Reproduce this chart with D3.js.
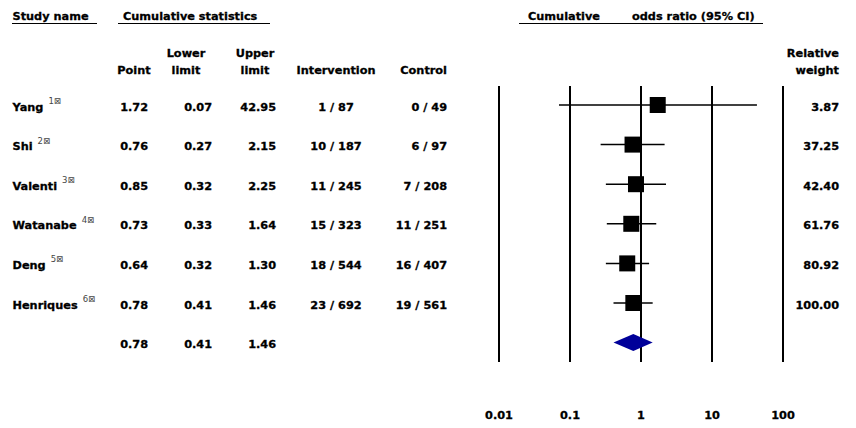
<!DOCTYPE html>
<html>
<head>
<meta charset="utf-8">
<script src="https://cdn.jsdelivr.net/npm/d3@7"></script>
<style>
  html, body { margin: 0; padding: 0; background: #fff; }
  svg text { font-family: "DejaVu Sans", Verdana, sans-serif; font-weight: bold; font-size: 11.3px; fill: #000; stroke: #000; stroke-width: 0.3px; }
  svg text.sup { font-size: 8.5px; font-weight: normal; fill: #444; stroke: none; }
</style>
</head>
<body>
<svg id="chart" width="856" height="428"></svg>
<script>
const studies = ["Yang", "Shi", "Valenti", "Watanabe", "Deng", "Henriques"];
const refs = ["1", "2", "3", "4", "5", "6"];
const pointEst = [1.72, 0.76, 0.85, 0.73, 0.64, 0.78];
const lowerLim = [0.07, 0.27, 0.32, 0.33, 0.32, 0.41];
const upperLim = [42.95, 2.15, 2.25, 1.64, 1.30, 1.46];
const intervention = ["1 / 87", "10 / 187", "11 / 245", "15 / 323", "18 / 544", "23 / 692"];
const control = ["0 / 49", "6 / 97", "7 / 208", "11 / 251", "16 / 407", "19 / 561"];
const relWeight = ["3.87", "37.25", "42.40", "61.76", "80.92", "100.00"];
const summaryPoint = 0.78, summaryLower = 0.41, summaryUpper = 1.46;
const axisTicks = [0.01, 0.1, 1, 10, 100];
const axisTickLabels = ["0.01", "0.1", "1", "10", "100"];

const svg = d3.select("#chart");
const x = d3.scaleLog().domain([0.01, 100]).range([499, 783]);
const y = d3.scaleLinear().domain([0, 6]).range([105, 342.6]);
const fmt = d3.format(".2f");

// Top headers
function header(txt, tx, anchor) {
  return svg.append("text").attr("x", tx).attr("y", 20).attr("text-anchor", anchor || "start").text(txt);
}
header("Study name", 12.5);
header("Cumulative statistics", 123);
header("Cumulative", 528);
header("odds ratio (95% CI)", 632);
[[12, 97], [118, 270], [519, 763]].forEach(([a, b]) => {
  svg.append("line").attr("x1", a).attr("x2", b).attr("y1", 23.5).attr("y2", 23.5)
    .attr("stroke", "#000").attr("stroke-width", 1);
});

// Column headers
const colHead = [
  { t: ["", "Point"], x: 134, a: "middle" },
  { t: ["Lower", "limit"], x: 186, a: "middle" },
  { t: ["Upper", "limit"], x: 255, a: "middle" },
  { t: ["", "Intervention"], x: 336, a: "middle" },
  { t: ["", "Control"], x: 447, a: "end" },
  { t: ["Relative", "weight"], x: 839, a: "end" }
];
colHead.forEach(c => {
  c.t.forEach((line, i) => {
    if (line) svg.append("text").attr("x", c.x).attr("y", 56.5 + i * 17.5).attr("text-anchor", c.a).text(line);
  });
});

// Vertical reference lines
svg.append("g").selectAll("line").data(axisTicks).join("line")
  .attr("x1", d => x(d)).attr("x2", d => x(d))
  .attr("y1", 86).attr("y2", 362)
  .attr("stroke", "#000").attr("stroke-width", 2);

// Axis labels
svg.append("g").selectAll("text").data(axisTicks).join("text")
  .attr("x", d => x(d)).attr("y", 419).attr("text-anchor", "middle")
  .text((d, i) => axisTickLabels[i]);

// Study rows
const rows = svg.append("g").selectAll("g").data(studies).join("g");
rows.each(function (name, i) {
  const g = d3.select(this);
  const base = y(i) + 5.5;
  const nm = g.append("text").attr("x", 12.5).attr("y", base).text(name);
  const w = nm.node().getComputedTextLength();
  g.append("text").attr("class", "sup").attr("x", 12.5 + w + 5).attr("y", base - 6.5)
    .text(refs[i] + "\u22A0");
  g.append("text").attr("x", 148).attr("y", base).attr("text-anchor", "end").text(fmt(pointEst[i]));
  g.append("text").attr("x", 212).attr("y", base).attr("text-anchor", "end").text(fmt(lowerLim[i]));
  g.append("text").attr("x", 276).attr("y", base).attr("text-anchor", "end").text(fmt(upperLim[i]));
  g.append("text").attr("x", 336).attr("y", base).attr("text-anchor", "middle").text(intervention[i]);
  g.append("text").attr("x", 447).attr("y", base).attr("text-anchor", "end").text(control[i]);
  g.append("text").attr("x", 839).attr("y", base).attr("text-anchor", "end").text(relWeight[i]);
  // CI line
  g.append("line").attr("x1", x(lowerLim[i])).attr("x2", x(upperLim[i]))
    .attr("y1", y(i)).attr("y2", y(i)).attr("stroke", "#000").attr("stroke-width", 1.5);
  // Square
  const s = 16;
  g.append("rect").attr("x", x(pointEst[i]) - s / 2).attr("y", y(i) - s / 2)
    .attr("width", s).attr("height", s).attr("fill", "#000");
});

// Summary row
const sy = y(6);
svg.append("text").attr("x", 148).attr("y", sy + 5.5).attr("text-anchor", "end").text(fmt(summaryPoint));
svg.append("text").attr("x", 212).attr("y", sy + 5.5).attr("text-anchor", "end").text(fmt(summaryLower));
svg.append("text").attr("x", 276).attr("y", sy + 5.5).attr("text-anchor", "end").text(fmt(summaryUpper));
const dh = 8.5;
svg.append("path")
  .attr("d", `M${x(summaryLower)},${sy} L${x(summaryPoint)},${sy - dh} L${x(summaryUpper)},${sy} L${x(summaryPoint)},${sy + dh} Z`)
  .attr("fill", "#000099");
</script>
</body>
</html>
